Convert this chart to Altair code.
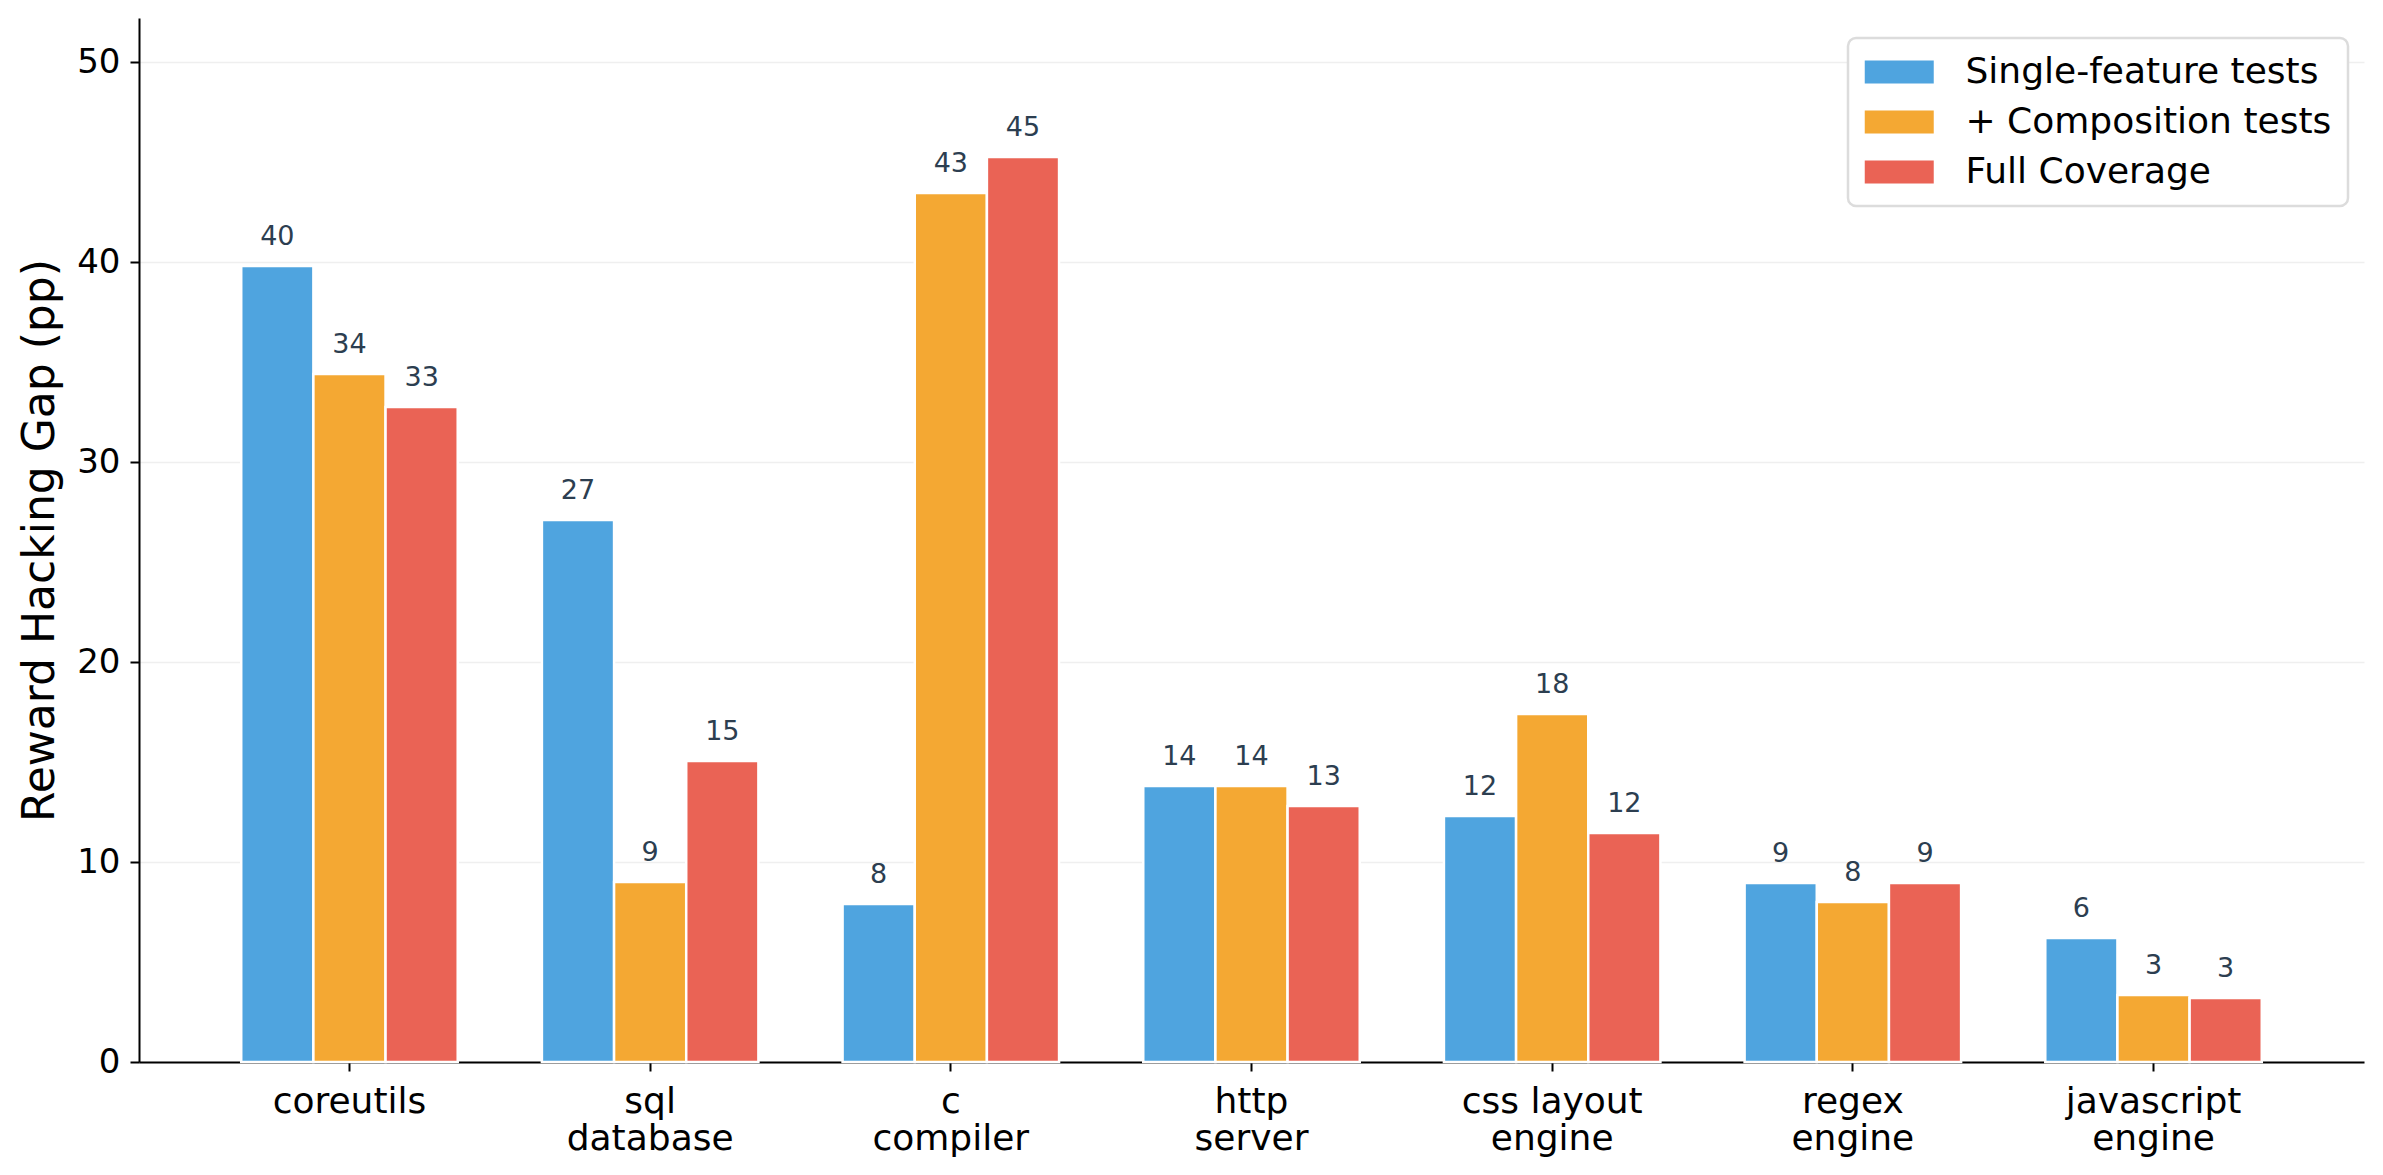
import pandas as pd
import altair as alt

categories = ["coreutils", "sql\ndatabase", "c\ncompiler", "http\nserver",
              "css layout\nengine", "regex\nengine", "javascript\nengine"]
series_names = ["Single-feature tests", "+ Composition tests", "Full Coverage"]
colors = ["#4FA4DF", "#F4A833", "#EA6355"]

# bar heights
single_vals = [39.8, 27.1, 7.9, 13.8, 12.3, 8.95, 6.2]
comp_vals = [34.4, 9.0, 43.45, 13.8, 17.4, 8.0, 3.35]
full_vals = [32.75, 15.05, 45.25, 12.8, 11.45, 8.95, 3.2]

# printed labels above the bars
single_labels = ["40", "27", "8", "14", "12", "9", "6"]
comp_labels = ["34", "9", "43", "14", "18", "8", "3"]
full_labels = ["33", "15", "45", "13", "12", "9", "3"]

rows = []
for name, vals, labs in zip(series_names,
                            [single_vals, comp_vals, full_vals],
                            [single_labels, comp_labels, full_labels]):
    for cat, v, lab in zip(categories, vals, labs):
        rows.append({"category": cat, "series": name, "value": v, "label": lab})
df = pd.DataFrame(rows)

FONT = "DejaVu Sans"

x_enc = alt.X(
    "category:N", sort=categories,
    scale=alt.Scale(paddingInner=0.28, paddingOuter=0.34),
    axis=alt.Axis(title=None, labelAngle=0, labelFontSize=36, labelColor="black",
                  labelExpr="split(datum.label, '\\n')", labelLineHeight=37,
                  labelPadding=13, labelBaseline="top", labelLimit=500,
                  domainColor="black", domainWidth=2, tickColor="black",
                  tickWidth=2, tickSize=9, grid=False),
)
xoff_enc = alt.XOffset("series:N", sort=series_names,
                       scale=alt.Scale(paddingInner=0, paddingOuter=0))
y_enc = alt.Y(
    "value:Q",
    scale=alt.Scale(domain=[0, 52.2], nice=False),
    axis=alt.Axis(title="Reward Hacking Gap (pp)", values=[0, 10, 20, 30, 40, 50],
                  titleFontSize=44, titleFontWeight="normal", titleColor="black",
                  titlePadding=14, labelFontSize=34, labelColor="black",
                  labelPadding=10, domainColor="black", domainWidth=2,
                  tickColor="black", tickWidth=2, tickSize=9,
                  gridColor="#efefef", gridWidth=1.5),
)

bars = alt.Chart(df).mark_bar(stroke="white", strokeWidth=2.5).encode(
    x=x_enc,
    xOffset=xoff_enc,
    y=y_enc,
    color=alt.Color(
        "series:N", sort=series_names,
        scale=alt.Scale(domain=series_names, range=colors),
        legend=alt.Legend(
            title=None, orient="none", legendX=1709, legendY=20,
            labelFontSize=36, labelFont=FONT, labelColor="black", labelOffset=65.5,
            labelLimit=800,
            # wide patch: path runs -1..3 so it starts at the column's left edge
            symbolType="M-1,-0.667H3V0.667H-1Z", symbolSize=1190,
            symbolStrokeWidth=0, rowPadding=14, padding=16,
            fillColor="white", strokeColor="#dcdcdc",
            cornerRadius=8,
        ),
    ),
)

labels = alt.Chart(df).mark_text(
    baseline="alphabetic", dy=-21, fontSize=27, color="#2c3e50", font=FONT
).encode(
    x=alt.X("category:N", sort=categories),
    xOffset=alt.XOffset("series:N", sort=series_names),
    y=alt.Y("value:Q"),
    text="label:N",
)

chart = alt.layer(bars, labels).properties(
    width=2225, height=1044,
    autosize=alt.AutoSizeParams(type="none"),
    padding={"left": 131, "top": 10, "right": 11, "bottom": 100},
).configure(font=FONT).configure_view(strokeWidth=0).configure_legend(strokeWidth=2.5)

chart.save("out.html", embed_options={"renderer": "svg", "actions": False})
